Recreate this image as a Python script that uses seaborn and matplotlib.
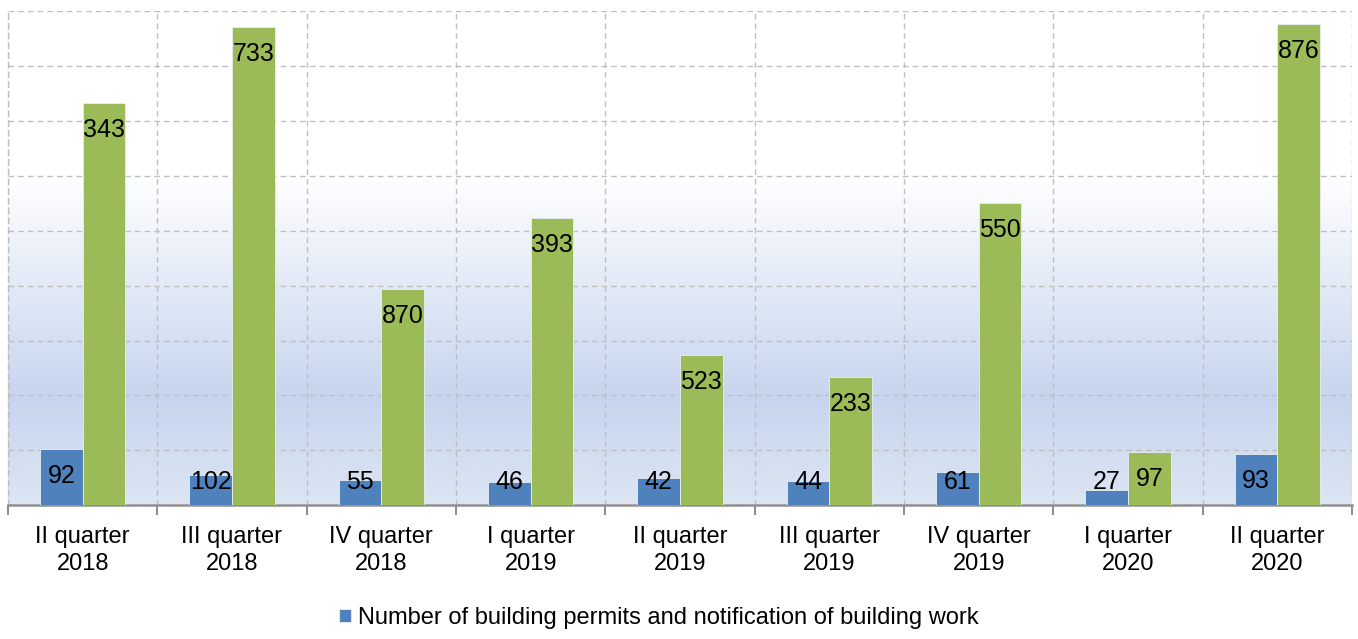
import numpy as np
import pandas as pd
import matplotlib
matplotlib.use("Agg")
import matplotlib.pyplot as plt
import seaborn as sns
from matplotlib.colors import LinearSegmentedColormap

# ---- data ----
quarters = ["II quarter\n2018", "III quarter\n2018", "IV quarter\n2018",
            "I quarter\n2019", "II quarter\n2019", "III quarter\n2019",
            "IV quarter\n2019", "I quarter\n2020", "II quarter\n2020"]
# bar heights as drawn
permits_height = [102, 55, 46, 42, 49, 44, 61, 27, 93]
works_height = [733, 870, 393, 523, 273, 233, 550, 97, 876]
# data labels as printed on the bars
permits_labels = ["92", "102", "55", "46", "42", "44", "61", "27", "93"]
works_labels = ["343", "733", "870", "393", "523", "233", "550", "97", "876"]
series_names = ["Number of building permits and notification of building work",
                "Works"]

df = pd.DataFrame({
    "quarter": quarters * 2,
    "value": permits_height + works_height,
    "series": [series_names[0]] * len(quarters) + [series_names[1]] * len(quarters),
})

sns.set_theme(style="white")
plt.rcParams["font.family"] = ["Liberation Sans", "DejaVu Sans"]
plt.rcParams["text.color"] = "black"
plt.rcParams["xtick.color"] = "black"
plt.rcParams["xtick.labelcolor"] = "black"

fig = plt.figure(figsize=(13.58, 6.39), dpi=100)
ax = fig.add_axes([8 / 1358, 1 - 505.3 / 639, 1344 / 1358, (505.3 - 11) / 639])

# gradient background
ymax = 900
cmap = LinearSegmentedColormap.from_list(
    "bg", [(0.0, "#dde5f3"), (192 / ymax, "#c6d5ee"), (600 / ymax, "#ffffff"), (1.0, "#ffffff")])
grad = np.linspace(0, 1, 400).reshape(-1, 1)
ax.imshow(grad, cmap=cmap, aspect="auto", origin="lower",
          extent=(-0.5, len(quarters) - 0.5, 0, ymax), zorder=-2)

sns.barplot(data=df, x="quarter", y="value", hue="series", hue_order=series_names,
            palette=["#4f81bd", "#9bbb59"], width=0.57, dodge=True, ax=ax,
            saturation=1, edgecolor="#e8eef6", linewidth=0.6, zorder=3)

ax.set_xlim(-0.5, len(quarters) - 0.5)
ax.set_ylim(0, ymax)
ax.set_xlabel("")
ax.set_ylabel("")
ax.set_yticks(np.arange(100, ymax + 1, 100))
ax.set_yticklabels([])
ax.tick_params(axis="y", length=0)

# value labels
px_per_unit = (505.3 - 11) / ymax
off = 27 / px_per_unit
floor = 23.6 / px_per_unit
for i in range(len(quarters)):
    for h, lab, dx in ((permits_height[i], permits_labels[i], -0.1425),
                       (works_height[i], works_labels[i], 0.1425)):
        ax.text(i + dx, max(h - off, floor), lab, ha="center", va="center",
                fontsize=18, color="black", zorder=5)

# grid
ax.yaxis.grid(True, color="#bfbfbf", linestyle=(0, (4, 3)), linewidth=1)
ax.set_xticks(np.arange(-0.5, len(quarters)), minor=True)
ax.xaxis.grid(True, which="minor", color="#bfbfbf", linestyle=(0, (4, 3)), linewidth=1)
ax.xaxis.grid(False, which="major")
ax.set_axisbelow(True)
ax.tick_params(axis="x", which="major", length=0, pad=15, labelsize=17, labelcolor="black")
ax.tick_params(axis="x", which="minor", length=7, width=1.5, color="#909090",
               direction="out", bottom=True)
for lbl in ax.get_xticklabels():
    lbl.set_linespacing(1.28)

for s in ["top", "right"]:
    ax.spines[s].set_visible(False)
ax.spines["left"].set_color("#bfbfbf")
ax.spines["left"].set_linestyle((0, (4, 3)))
ax.spines["left"].set_linewidth(1)
ax.spines["bottom"].set_color("#909090")
ax.spines["bottom"].set_linewidth(1.8)

handles, labels = ax.get_legend_handles_labels()
leg = ax.legend(handles[:1], labels[:1], loc="center", bbox_to_anchor=(659 / 1358, 1 - 618 / 639),
                bbox_transform=fig.transFigure, frameon=False, fontsize=17,
                handlelength=0.5, handleheight=0.5, handletextpad=0.3)
for t in leg.get_texts():
    t.set_color("black")

fig.savefig("out.png", dpi=100)
